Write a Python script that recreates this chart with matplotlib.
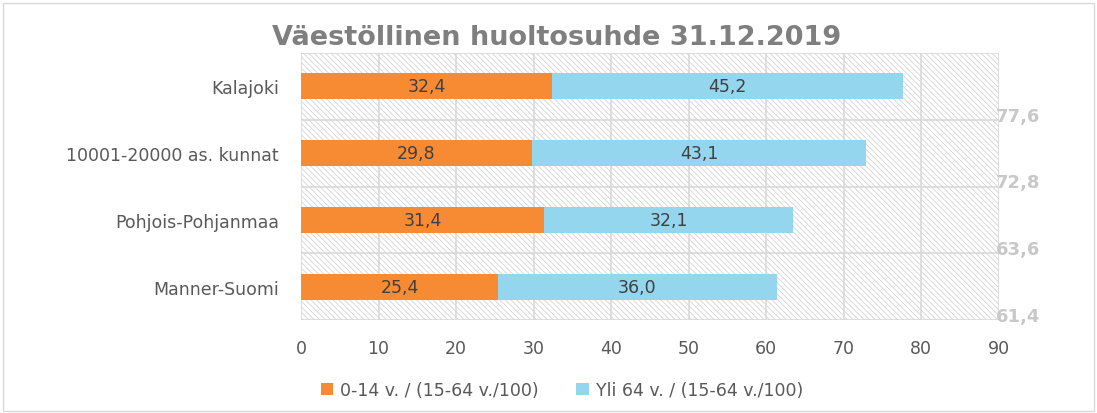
import matplotlib
matplotlib.use("Agg")
import matplotlib.pyplot as plt
from matplotlib.patches import Rectangle

categories = ["Manner-Suomi", "Pohjois-Pohjanmaa", "10001-20000 as. kunnat", "Kalajoki"]
young = [25.4, 31.4, 29.8, 32.4]
old = [36.0, 32.1, 43.1, 45.2]
totals = [61.4, 63.6, 72.8, 77.6]
series_names = ["0-14 v. / (15-64 v./100)", "Yli 64 v. / (15-64 v./100)"]
xticks = list(range(0, 100, 10))

c_orange = "#F68B33"
c_blue = "#93D6EE"
txt = "#595959"

plt.rcParams["hatch.color"] = "#d4d4d4"
plt.rcParams["hatch.linewidth"] = 0.6

fig = plt.figure(figsize=(10.97, 4.14), dpi=100)
fig.patches.append(Rectangle((0.003, 0.005), 0.994, 0.985, transform=fig.transFigure,
                             fill=False, edgecolor="#d9d9d9", linewidth=1))
ax = fig.add_axes([0.2744, 0.2246, 0.636, 0.645])

y = list(range(len(categories)))
ax.set_xlim(0, 90)
ax.set_ylim(-0.5, len(categories) - 0.5)

# hatched background
ax.add_patch(Rectangle((0, 0), 1, 1, transform=ax.transAxes, facecolor="white",
                       edgecolor="#d4d4d4", hatch="\\\\\\\\\\\\", linewidth=0, zorder=0))
for xv in xticks:
    ax.axvline(xv, color="#d9d9d9", linewidth=1.2, zorder=1)
for k in range(len(categories) + 1):
    ax.axhline(k - 0.5, color="#d9d9d9", linewidth=1.2, zorder=1)

b1 = ax.barh(y, young, height=0.39, color=c_orange, zorder=3, label=series_names[0])
b2 = ax.barh(y, old, left=young, height=0.39, color=c_blue, zorder=3, label=series_names[1])

for bars, vals in ((b1, young), (b2, old)):
    for r, v in zip(bars, vals):
        ax.text(r.get_x() + r.get_width() / 2, r.get_y() + r.get_height() / 2,
                f"{v:.1f}".replace(".", ","), ha="center", va="center",
                color="#404040", fontsize=12.5, zorder=4)

for i, t in enumerate(totals):
    ax.text(89.6, i - 0.44, f"{t:.1f}".replace(".", ","), ha="left", va="center",
            color="#c8c8c8", fontsize=13, fontweight="bold", zorder=4, clip_on=False)

ax.set_xticks(xticks)
ax.set_yticks(y)
ax.set_yticklabels(categories)
ax.tick_params(axis="both", length=0, labelsize=12.5, colors=txt)
ax.tick_params(axis="x", pad=14)
ax.tick_params(axis="y", pad=16)
for s in ax.spines.values():
    s.set_visible(False)

fig.text(0.507, 0.908, "Väestöllinen huoltosuhde 31.12.2019", ha="center", va="center",
         fontsize=19.5, fontweight="bold", color="#7f7f7f")

fig.legend(handles=[b1, b2], loc="center", bbox_to_anchor=(0.512, 0.055), ncol=2,
           frameon=False, fontsize=12.5, labelcolor=txt, handlelength=0.7, handleheight=0.7,
           handletextpad=0.4, columnspacing=2.2)

fig.savefig("out.png", dpi=100)
